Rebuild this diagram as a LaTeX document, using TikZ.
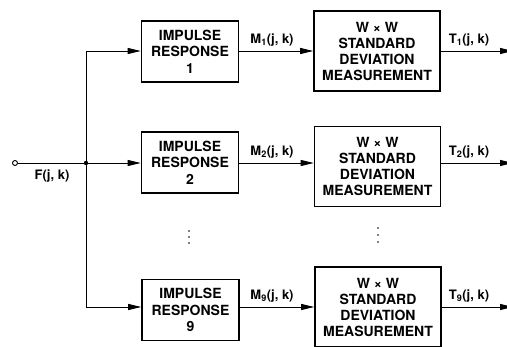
\documentclass[tikz,border=0pt]{standalone}
\usepackage{fontspec}
\setmainfont{TeX Gyre Heros}
\usetikzlibrary{arrows.meta,positioning}

\begin{document}
\begin{tikzpicture}[x=1pt,y=-1pt,
  impbox/.style={draw, line width=1.6pt, align=center, inner sep=0pt, minimum width=97pt, minimum height=61pt, font=\bfseries\fontsize{14}{16.5}\selectfont},
  sdbox/.style={draw, line width=1.6pt, align=center, inner sep=0pt, minimum width=126pt, minimum height=80pt, font=\bfseries\fontsize{14}{16}\selectfont},
  sigline/.style={line width=0.9pt},
  sigarrow/.style={sigline, -{Triangle[length=13pt,width=6pt]}},
  siglabel/.style={font=\bfseries\fontsize{13}{15}\selectfont}]
  \useasboundingbox (0,0) rectangle (507,347);

  % impulse response blocks
  \node[impbox] (imp1) at (190,51.5) {IMPULSE\\RESPONSE\\1};
  \node[impbox] (imp2) at (190,162.5) {IMPULSE\\RESPONSE\\2};
  \node[impbox] (imp9) at (190.5,310) {IMPULSE\\RESPONSE\\9};

  % standard deviation blocks
  \node[sdbox] (sd1) at (377,51) {W × W\\STANDARD\\DEVIATION\\MEASUREMENT};
  \node[sdbox] (sd2) at (377.5,166.5) {W × W\\STANDARD\\DEVIATION\\MEASUREMENT};
  \node[sdbox] (sd9) at (378,307) {W × W\\STANDARD\\DEVIATION\\MEASUREMENT};

  % vertical ellipses
  \foreach \yy in {231,237,243} \fill (189,\yy) circle (0.9pt);
  \foreach \yy in {228,235,242} \fill (378,\yy) circle (0.9pt);

  % input and fan-out
  \node[circle, draw, sigline, fill=white, inner sep=0pt, minimum size=5pt] (in) at (15,163) {};
  \coordinate (top) at (86,51);
  \coordinate (junc) at (86,163);
  \coordinate (bot) at (86,307);
  \node[siglabel] (flab) at (52,176) {F(j, k)};
  \draw[sigline] (in) -- (junc);
  \draw[sigline] (top) -- (bot);
  \fill (junc) circle (2.2pt);
  \draw[sigarrow] (top) -- (top -| imp1.west);
  \draw[sigarrow] (junc) -- (junc -| imp2.west);
  \draw[sigarrow] (bot) -- (bot -| imp9.west);

  % middle connectors
  \draw[sigarrow] (imp1.east |- top) -- (sd1.west |- top);
  \draw[sigarrow] (imp2.east |- junc) -- (sd2.west |- junc);
  \draw[sigarrow] (imp9.east |- bot) -- (sd9.west |- bot);
  \node[siglabel] (m1) at (272,40) {M\textsubscript{1}(j, k)};
  \node[siglabel] (m2) at (272,152) {M\textsubscript{2}(j, k)};
  \node[siglabel] (m9) at (272,296) {M\textsubscript{9}(j, k)};

  % outputs
  \coordinate (out1) at (513,51);
  \coordinate (out2) at (513,163);
  \coordinate (out9) at (513,307);
  \draw[sigarrow] (sd1.east |- out1) -- (out1);
  \draw[sigarrow] (sd2.east |- out2) -- (out2);
  \draw[sigarrow] (sd9.east |- out9) -- (out9);
  \node[siglabel] (t1) at (469,40) {T\textsubscript{1}(j, k)};
  \node[siglabel] (t2) at (469,152) {T\textsubscript{2}(j, k)};
  \node[siglabel] (t9) at (469,296) {T\textsubscript{9}(j, k)};
\end{tikzpicture}
\end{document}
